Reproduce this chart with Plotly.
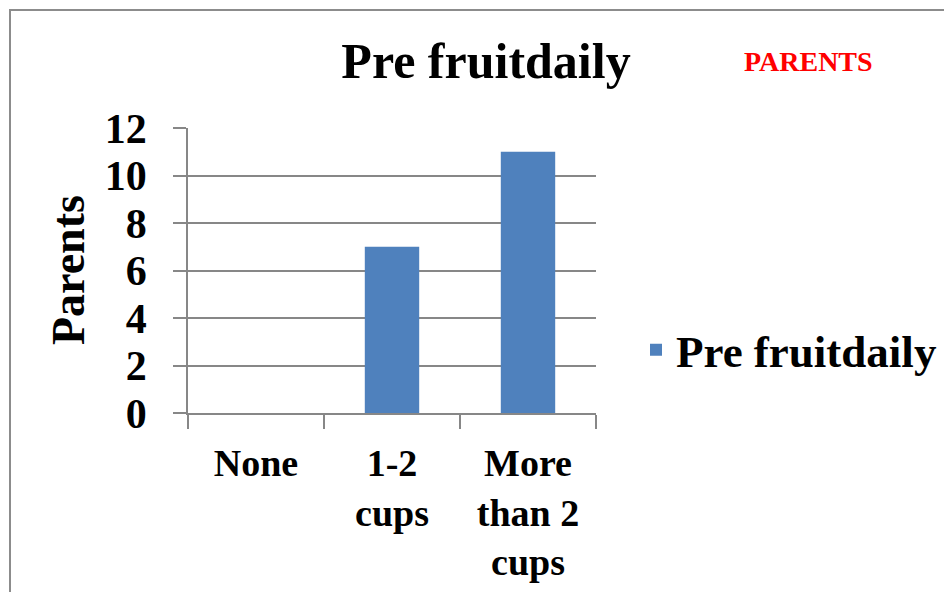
import plotly.graph_objects as go

categories = ["None", "1-2<br>cups", "More<br>than 2<br>cups"]
values = [0, 7, 11]
series_name = "Pre fruitdaily"
title_text = "Pre fruitdaily"
corner_text = "PARENTS"
y_title = "Parents"
y_ticks = [0, 2, 4, 6, 8, 10, 12]

FONT = "Liberation Serif"
GRID = "#878787"
BAR = "#4F81BD"

# page has an 8px body margin; figure coordinates = page coordinates - 8
OFF = 8
W, H = 952 - 2 * OFF, 600 - 2 * OFF
L, R, T, B = 188 - OFF, 596 - OFF, 128 - OFF, 413 - OFF


def px_x(p):
    return (p - OFF - L) / (R - L)


def px_y(p):
    return (B - (p - OFF)) / (B - T)


fig = go.Figure()
fig.add_trace(go.Bar(
    x=categories, y=values, name=series_name,
    marker=dict(color=BAR, line=dict(width=0)),
    showlegend=True,
))

fig.update_layout(
    width=W, height=H,
    margin=dict(l=L, r=W - R, t=T, b=H - B, autoexpand=False),
    paper_bgcolor="white", plot_bgcolor="white",
    bargap=0.6,
    font=dict(family=FONT, color="black"),
    title=dict(text="<b>%s</b>" % title_text, x=px_x(486), xref="paper", xanchor="center",
               y=1 - (60 - OFF) / H, yref="container", yanchor="middle",
               font=dict(family=FONT, size=50, color="black")),
    xaxis=dict(
        type="category", tickson="boundaries", ticks="outside", ticklen=14,
        tickcolor=GRID, tickwidth=1.5, showgrid=False,
        showline=True, linecolor=GRID, linewidth=1.5,
        tickfont=dict(family=FONT, size=38, color="black", weight="bold"),
        ticklabelstandoff=16,
        fixedrange=True,
    ),
    yaxis=dict(
        range=[0, 12], tickvals=y_ticks, ticks="outside", ticklen=13,
        tickcolor=GRID, tickwidth=1.5,
        showgrid=True, gridcolor=GRID, gridwidth=1.5,
        showline=True, linecolor=GRID, linewidth=1.5,
        zeroline=False,
        tickfont=dict(family=FONT, size=42, color="black", weight="bold"),
        ticklabelstandoff=18,
        fixedrange=True,
    ),
    legend=dict(
        x=px_x(636), y=px_y(350), xref="paper", yref="paper",
        xanchor="left", yanchor="middle",
        font=dict(family=FONT, size=45, color="black", weight="bold"),
        bgcolor="rgba(0,0,0,0)", borderwidth=0,
    ),
    shapes=[dict(type="rect", xref="paper", yref="paper",
                 x0=px_x(10), x1=px_x(1000), y0=px_y(10), y1=px_y(700),
                 line=dict(color="#8c8c8c", width=2), fillcolor="rgba(0,0,0,0)",
                 layer="below")],
    annotations=[
        dict(text="<b>%s</b>" % corner_text, xref="paper", yref="paper",
             x=px_x(808), y=px_y(62), xanchor="center", yanchor="middle",
             showarrow=False, font=dict(family=FONT, size=28, color="#FF0000")),
        dict(text="<b>%s</b>" % y_title, xref="paper", yref="paper",
             x=px_x(68), y=px_y(270), xanchor="center", yanchor="middle",
             textangle=-90, showarrow=False,
             font=dict(family=FONT, size=46, color="black")),
    ],
)

fig.write_html("out.html")
